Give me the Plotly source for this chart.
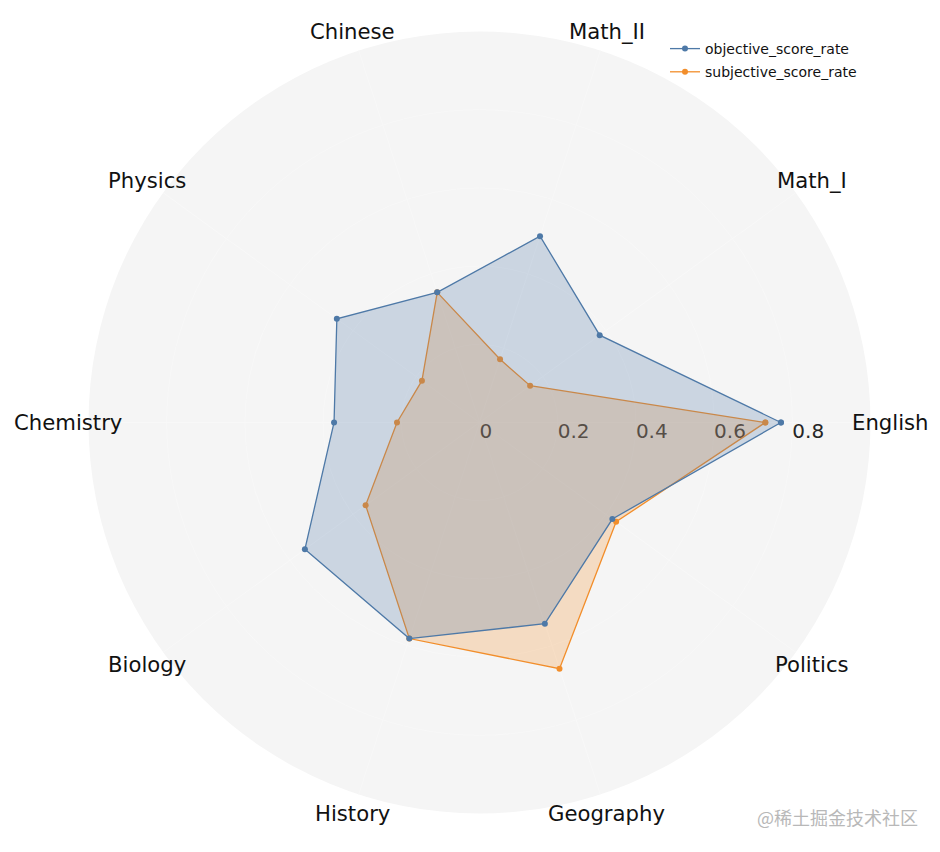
import math
import plotly.graph_objects as go

categories = ["English", "Math_I", "Math_II", "Chinese", "Physics",
              "Chemistry", "Biology", "History", "Geography", "Politics"]
objective_score_rate = [0.771, 0.380, 0.501, 0.350, 0.451, 0.372, 0.552, 0.581, 0.541, 0.420]
subjective_score_rate = [0.731, 0.160, 0.170, 0.350, 0.182, 0.211, 0.360, 0.581, 0.662, 0.432]
radial_ticks = [0, 0.2, 0.4, 0.6, 0.8]
radial_tick_labels = ["0", "0.2", "0.4", "0.6", "0.8"]

BLUE = "#4e79a7"
ORANGE = "#f28e2b"
W, H = 940, 852

# target circle geometry in pixels (centre and radius); page body margin offset fix
CX, CY, R = 479.0, 422.5, 391.0
DX, DY = -7.5, -8.0
LABEL_R = 411.0

fig = go.Figure()

# radial tick labels (drawn under the fills)
fig.add_trace(go.Scatterpolar(
    r=radial_ticks, theta=[categories[0]] * len(radial_ticks),
    mode="text", text=radial_tick_labels, textposition="bottom right",
    textfont=dict(size=20, color="#262626", family="DejaVu Sans"),
    showlegend=False, hoverinfo="skip", cliponaxis=False))

def closed(v):
    return list(v) + [v[0]]

fig.add_trace(go.Scatterpolar(
    r=closed(subjective_score_rate), theta=closed(categories),
    mode="lines+markers", name="subjective_score_rate", showlegend=False,
    line=dict(color=ORANGE, width=1.3), marker=dict(size=6, color=ORANGE),
    fill="toself", fillcolor="rgba(242,142,43,0.25)"))

fig.add_trace(go.Scatterpolar(
    r=closed(objective_score_rate), theta=closed(categories),
    mode="lines+markers", name="objective_score_rate", showlegend=False,
    line=dict(color=BLUE, width=1.3), marker=dict(size=6, color=BLUE),
    fill="toself", fillcolor="rgba(78,121,167,0.25)"))

# legend entries (line + marker only, like the reference)
for name, col in [("objective_score_rate", BLUE), ("subjective_score_rate", ORANGE)]:
    fig.add_trace(go.Scatterpolar(
        r=[None], theta=[None], mode="lines+markers", name=name,
        legendgroup=name, line=dict(color=col, width=1.3),
        marker=dict(size=6, color=col), hoverinfo="skip"))

# category labels around the circle
annotations = []
n = len(categories)
for i, cat in enumerate(categories):
    ang = 2 * math.pi * i / n
    px = CX + DX + LABEL_R * math.cos(ang)
    py = CY + DY - LABEL_R * math.sin(ang)
    annotations.append(dict(text=cat, x=px / W, y=1 - py / H, xref="paper", yref="paper",
                            xanchor="center", yanchor="middle", showarrow=False,
                            font=dict(size=21.2, color="#111111", family="DejaVu Sans")))

annotations.append(dict(text="@稀土掘金技术社区", x=912 / W, y=1 - 809 / H,
                        xref="paper", yref="paper", xanchor="right", yanchor="middle",
                        showarrow=False,
                        font=dict(size=18, color="#b8b8b8", family="Noto Sans CJK SC")))

x0 = CX - R + DX
x1 = CX + R + DX
ytop = CY - R + DY
ybot = CY + R + DY

fig.update_layout(
    width=W, height=H,
    margin=dict(l=0, r=0, t=0, b=0),
    paper_bgcolor="white",
    font=dict(family="DejaVu Sans", color="#111111"),
    polar=dict(
        domain=dict(x=[x0 / W, x1 / W], y=[(H - ybot) / H, (H - ytop) / H]),
        bgcolor="#f5f5f5",
        radialaxis=dict(range=[0, 1], tickvals=radial_ticks, showticklabels=False,
                        showline=False, ticks="", gridcolor="#f8f8f8", gridwidth=1,
                        angle=0, layer="below traces"),
        angularaxis=dict(rotation=0, direction="counterclockwise",
                         showticklabels=False, ticks="", showline=False,
                         gridcolor="#f8f8f8", gridwidth=1, layer="below traces"),
    ),
    legend=dict(x=657 / W, y=1 - 25 / H, xanchor="left", yanchor="top",
                traceorder="grouped", bgcolor="rgba(0,0,0,0)",
                font=dict(size=14, color="#111111", family="DejaVu Sans"),
                itemwidth=30, tracegroupgap=2),
    annotations=annotations,
)

fig.write_html("out.html")
